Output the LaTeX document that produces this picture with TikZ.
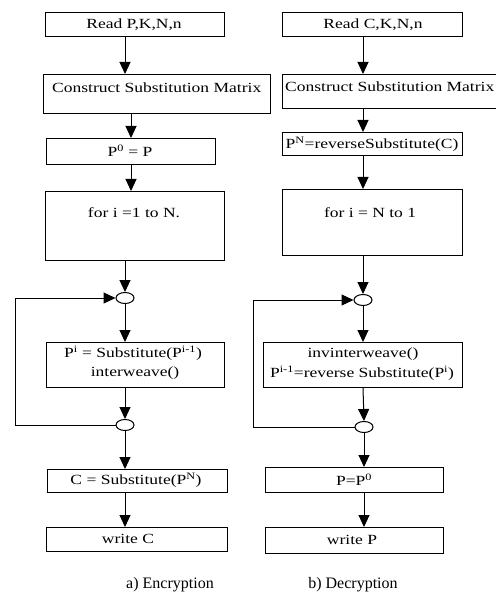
\documentclass[tikz,border=0pt]{standalone}
\usepackage{fontspec}
\setmainfont{Liberation Serif}
\newfontfamily\boxfont{Liberation Serif}[FakeStretch=1.25]
\usetikzlibrary{arrows.meta,shapes.geometric}
\begin{document}
\begin{tikzpicture}[x=1pt,y=-1pt,
  box/.style={draw,line width=1pt,inner sep=0pt,anchor=north west},
  txt/.style={font=\boxfont\fontsize{14}{16}\selectfont,inner sep=0pt},
  arr/.style={line width=1pt,-{Triangle[length=12pt,width=11pt]}},
  junc/.style={draw,line width=1pt,ellipse,minimum width=18pt,minimum height=11pt,inner sep=0pt,fill=white},
  captxt/.style={font=\fontsize{16}{18}\selectfont,inner sep=0pt}]
\useasboundingbox (0,0) rectangle (495,593);
% left column boxes
\node[box,minimum width=179pt,minimum height=24pt] (a1) at (45,12) {};
\node[box,minimum width=227pt,minimum height=39pt] (a2) at (43,74) {};
\node[box,minimum width=169pt,minimum height=26pt] (a3) at (46,138) {};
\node[box,minimum width=179pt,minimum height=69pt] (a4) at (45,191) {};
\node[junc] (c1) at (125,298) {};
\node[box,minimum width=178pt,minimum height=45pt] (a5) at (46,342) {};
\node[junc] (c2) at (125,425) {};
\node[box,minimum width=180pt,minimum height=23pt] (a6) at (47,469) {};
\node[box,minimum width=181pt,minimum height=24pt] (a7) at (46,527) {};
% right column boxes
\node[box,minimum width=180pt,minimum height=24pt] (b1) at (282,12) {};
\node[box,minimum width=225pt,minimum height=34pt] (b2) at (282,74) {};
\node[box,minimum width=180pt,minimum height=23pt] (b3) at (282,132) {};
\node[box,minimum width=180pt,minimum height=66pt] (b4) at (282,189) {};
\node[junc] (d1) at (363,300) {};
\node[box,minimum width=199pt,minimum height=45pt] (b5) at (263,342) {};
\node[junc] (d2) at (364,427) {};
\node[box,minimum width=178pt,minimum height=25pt] (b6) at (265,467) {};
\node[box,minimum width=178pt,minimum height=26pt] (b7) at (265,527) {};
% texts
\node[txt] (ta1) at (134,25) {Read P,K,N,n};
\node[txt,anchor=west] (ta2) at (52,88) {Construct Substitution Matrix};
\node[txt] (ta3) at (130,151) {P\textsuperscript{0} = P};
\node[txt] (ta4) at (134,213) {for i =1 to N.};
\node[txt] (ta5) at (133,353) {P\textsuperscript{i} = Substitute(P\textsuperscript{i-1})};
\node[txt] (ta5b) at (135,373) {interweave()};
\node[txt] (ta6) at (136,480) {C = Substitute(P\textsuperscript{N})};
\node[txt] (ta7) at (128,539) {write C};
\node[txt] (tb1) at (373,25) {Read C,K,N,n};
\node[txt,anchor=west] (tb2) at (285,87) {Construct Substitution Matrix};
\node[txt] (tb3) at (372,144) {P\textsuperscript{N}=reverseSubstitute(C)};
\node[txt] (tb4) at (370,213) {for i = N to 1};
\node[txt] (tb5) at (363,354) {invinterweave()};
\node[txt] (tb5b) at (362,373) {P\textsuperscript{i-1}=reverse Substitute(P\textsuperscript{i})};
\node[txt] (tb6) at (354,480) {P=P\textsuperscript{0}};
\node[txt] (tb7) at (352,540) {write P};
\node[captxt] (capa) at (170,585) {a) Encryption};
\node[captxt] (capb) at (353,585) {b) Decryption};
% helper coordinates
\coordinate (ax) at (131,0);
\coordinate (la) at (15,0);
\coordinate (lb) at (253,0);
% left arrows
\draw[arr] (a1.south -| c1) -- (a2.north -| c1);
\draw[arr] (a2.south -| ax) -- (a3.north -| ax);
\draw[arr] (a3.south -| ax) -- (a4.north -| ax);
\draw[arr] (a4.south -| c1) -- (c1.north);
\draw[arr] (c1.south) -- (a5.north -| c1);
\draw[arr] (a5.south -| c1) -- (c2.north);
\draw[arr] (c2.south) -- (a6.north -| c2);
\draw[arr] (a6.south -| c2) -- (a7.north -| c2);
\draw[arr] (c2.west) -| (la |- c1) -- (c1.west);
% right arrows
\draw[arr] (b1.south -| d1) -- (b2.north -| d1);
\draw[arr] (b2.south -| d1) -- (b3.north -| d1);
\draw[arr] (b3.south -| d1) -- (b4.north -| d1);
\draw[arr] (b4.south -| d1) -- (d1.north);
\draw[arr] (d1.south) -- (b5.north -| d1);
\draw[arr] (b5.south -| d1) -- (d2.north);
\draw[arr] (d2.south) -- (b6.north -| d2);
\draw[arr] (b6.south -| d2) -- (b7.north -| d2);
\draw[arr] (d2.west) -| (lb |- d1) -- (d1.west);
\end{tikzpicture}
\end{document}
